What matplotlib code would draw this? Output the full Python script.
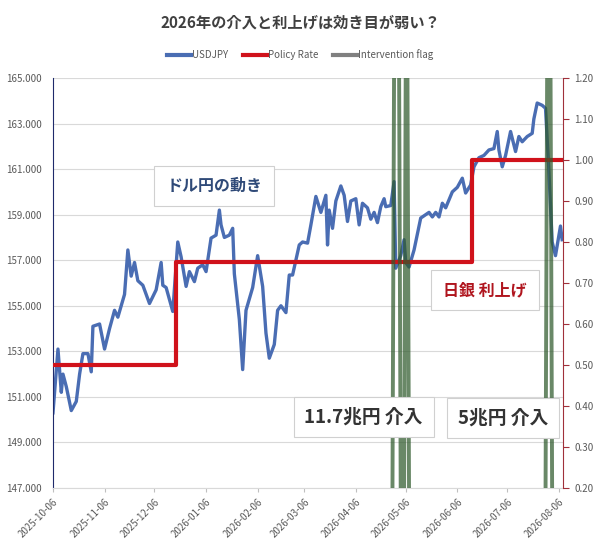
import numpy as np
import pandas as pd
import matplotlib
matplotlib.use("Agg")
import matplotlib.pyplot as plt
import matplotlib.dates as mdates
from matplotlib.lines import Line2D

plt.rcParams['font.family'] = ['Noto Sans CJK JP', 'DejaVu Sans']

# USDJPY
fx_dates = ['2025-10-06', '2025-10-09', '2025-10-11', '2025-10-12', '2025-10-14', '2025-10-17',
            '2025-10-20', '2025-10-22', '2025-10-24', '2025-10-27', '2025-10-29', '2025-10-30',
            '2025-11-03', '2025-11-06', '2025-11-09', '2025-11-12', '2025-11-14', '2025-11-18',
            '2025-11-20', '2025-11-22', '2025-11-24', '2025-11-26', '2025-11-29', '2025-12-03',
            '2025-12-07', '2025-12-10', '2025-12-11', '2025-12-13', '2025-12-17', '2025-12-20',
            '2025-12-22', '2025-12-25', '2025-12-27', '2025-12-30', '2026-01-01', '2026-01-04',
            '2026-01-06', '2026-01-09', '2026-01-12', '2026-01-14', '2026-01-15', '2026-01-17',
            '2026-01-20', '2026-01-22', '2026-01-23', '2026-01-26', '2026-01-28', '2026-01-29',
            '2026-01-30', '2026-02-03', '2026-02-06', '2026-02-09', '2026-02-11', '2026-02-13',
            '2026-02-16', '2026-02-18', '2026-02-20', '2026-02-23', '2026-02-25', '2026-02-27',
            '2026-03-01', '2026-03-03', '2026-03-05', '2026-03-08', '2026-03-10', '2026-03-13',
            '2026-03-16', '2026-03-19', '2026-03-20', '2026-03-21', '2026-03-23', '2026-03-25',
            '2026-03-28', '2026-03-30', '2026-04-01', '2026-04-03', '2026-04-06', '2026-04-08',
            '2026-04-10', '2026-04-13', '2026-04-15', '2026-04-17', '2026-04-19', '2026-04-21',
            '2026-04-23', '2026-04-24', '2026-04-27', '2026-04-29', '2026-04-30', '2026-05-03',
            '2026-05-05', '2026-05-06', '2026-05-08', '2026-05-11', '2026-05-15', '2026-05-18',
            '2026-05-20', '2026-05-22', '2026-05-24', '2026-05-26', '2026-05-28', '2026-05-30',
            '2026-06-03', '2026-06-06', '2026-06-09', '2026-06-11', '2026-06-14', '2026-06-16',
            '2026-06-19', '2026-06-22', '2026-06-25', '2026-06-28', '2026-06-30', '2026-07-01',
            '2026-07-03', '2026-07-05', '2026-07-08', '2026-07-11', '2026-07-13', '2026-07-15',
            '2026-07-18', '2026-07-21', '2026-07-22', '2026-07-24', '2026-07-27', '2026-07-29',
            '2026-07-31', '2026-08-02', '2026-08-04', '2026-08-07', '2026-08-08']
fx_values = [150.3, 153.1, 151.2, 152.0, 151.45, 150.4,
             150.8, 152.0, 152.9, 152.9, 152.1, 154.1,
             154.2, 153.1, 154.0, 154.8, 154.5, 155.5,
             157.45, 156.3, 156.9, 156.1, 155.9, 155.1,
             155.7, 156.9, 155.9, 155.8, 154.75, 157.8,
             157.15, 155.85, 156.5, 156.06, 156.65, 156.8,
             156.5, 157.97, 158.1, 159.2, 158.55, 158.0,
             158.1, 158.4, 156.4, 154.4, 152.2, 153.5,
             154.8, 155.8, 157.2, 155.85, 153.8, 152.7,
             153.3, 154.8, 155.0, 154.7, 156.35, 156.35,
             157.0, 157.67, 157.8, 157.75, 158.55, 159.8,
             159.1, 159.85, 157.67, 159.2, 158.4, 159.6,
             160.26, 159.85, 158.7, 159.6, 159.7, 158.55,
             159.5, 159.3, 158.8, 159.1, 158.65, 159.35,
             159.7, 159.35, 159.4, 160.45, 156.65, 157.2,
             157.9, 156.9, 156.7, 157.45, 158.85, 159.0,
             159.1, 158.9, 159.1, 158.9, 159.5, 159.3,
             160.0, 160.2, 160.6, 159.95, 160.3, 161.1,
             161.5, 161.6, 161.84, 161.9, 162.65, 161.84,
             161.1, 161.6, 162.65, 161.77, 162.43, 162.2,
             162.43, 162.57, 163.2, 163.9, 163.8, 163.67,
             160.96, 157.8, 157.2, 158.5, 157.9]

# BOJ policy rate (step)
rate_dates = ['2025-10-06', '2025-12-19', '2026-06-15', '2026-08-08']
rate_values = [0.50, 0.75, 1.00, 1.00]

# intervention flag
flag_dates = ['2025-10-06', '2026-04-28', '2026-04-29', '2026-05-02', '2026-05-03', '2026-05-05',
              '2026-05-06', '2026-05-07', '2026-05-08', '2026-07-29', '2026-07-30', '2026-08-01',
              '2026-08-02', '2026-08-08']
flag_values = [0, 0, 1, 1, 0, 0, 1, 1, 0, 0, 1, 1, 0, 0]

tick_dates = ['2025-10-06', '2025-11-06', '2025-12-06', '2026-01-06', '2026-02-06', '2026-03-06',
              '2026-04-06', '2026-05-06', '2026-06-06', '2026-07-06', '2026-08-06']

fxd = pd.to_datetime(fx_dates)
rd = pd.to_datetime(rate_dates)
fd = pd.to_datetime(flag_dates)

fig = plt.figure(figsize=(6.0, 5.46), dpi=100)
ax = fig.add_axes([0.0883, 0.1062, 0.85, 0.751])

ax.plot(fxd, fx_values, color='#4a6db3', lw=2.4, solid_joinstyle='round')
ax.set_ylim(147, 165)
ax.set_yticks(np.arange(147, 166, 2))
ax.yaxis.set_major_formatter(plt.FuncFormatter(lambda v, p: f'{v:.3f}'))
ax.set_xlim(pd.Timestamp('2025-10-06'), pd.Timestamp('2026-08-08 12:00'))
ax.set_xticks(pd.to_datetime(tick_dates))
ax.xaxis.set_major_formatter(mdates.DateFormatter('%Y-%m-%d'))
ax.grid(axis='y', color='#d9d9d9', lw=0.8)
ax.set_axisbelow(True)
for lab in ax.get_xticklabels():
    lab.set_rotation(45)
    lab.set_ha('right')
    lab.set_rotation_mode('anchor')
ax.tick_params(axis='x', labelsize=7, colors='#595959', length=3, color='#bfbfbf')
ax.tick_params(axis='y', labelsize=7, colors='#595959', length=0, pad=8)
ax.spines['top'].set_visible(False)
ax.spines['right'].set_visible(False)
ax.spines['bottom'].set_color('#d9d9d9')
ax.spines['left'].set_color('#1f2a6b')

ax2 = ax.twinx()
ax2.plot(rd, rate_values, color='#d0121b', lw=3.0, drawstyle='steps-post')
ax2.set_ylim(0.2, 1.2)
ax2.set_yticks(np.arange(0.2, 1.21, 0.1))
ax2.yaxis.set_major_formatter(plt.FuncFormatter(lambda v, p: f'{v:.2f}'))
ax2.tick_params(axis='y', labelsize=7, colors='#595959', length=4, color='#a0303a', pad=4)
for s in ['top', 'left', 'bottom']:
    ax2.spines[s].set_visible(False)
ax2.spines['right'].set_color('#a0303a')

ax3 = ax.twinx()
ax3.plot(fd, flag_values, color='#2f5a2c', lw=2.8, alpha=0.72)
ax3.set_ylim(0.03, 0.97)
ax3.axis('off')

# text boxes
box = dict(boxstyle='square,pad=0.75', fc='white', ec='#d0d0d0', lw=0.8)
ax3.text(0.316, 0.737, 'ドル円の動き', transform=ax3.transAxes, ha='center', va='center',
         fontsize=11.5, fontweight='bold', color='#2f4a78', bbox=box, zorder=10)
ax3.text(0.847, 0.483, '日銀 利上げ', transform=ax3.transAxes, ha='center', va='center',
         fontsize=11.5, fontweight='bold', color='#b0151e', bbox=box, zorder=10)
ax3.text(0.609, 0.173, '11.7兆円 介入', transform=ax3.transAxes, ha='center', va='center',
         fontsize=13.5, fontweight='bold', color='#333333', bbox=dict(box, boxstyle='square,pad=0.58'), zorder=10)
ax3.text(0.882, 0.171, '5兆円 介入', transform=ax3.transAxes, ha='center', va='center',
         fontsize=13.5, fontweight='bold', color='#333333', bbox=dict(box, boxstyle='square,pad=0.58'), zorder=10)

fig.text(0.5, 0.958, '2026年の介入と利上げは効き目が弱い？', ha='center', va='center',
         fontsize=11, fontweight='bold', color='#404040')

handles = [Line2D([], [], color='#4a6db3', lw=3),
           Line2D([], [], color='#d0121b', lw=3),
           Line2D([], [], color='#808080', lw=3)]
fig.legend(handles, ['USDJPY', 'Policy Rate', 'Intervention flag'], loc='center',
           bbox_to_anchor=(0.5, 0.9), ncol=3, frameon=False, fontsize=7,
           labelcolor='#595959', handlelength=2.5, handletextpad=0.1, columnspacing=1.5)

fig.savefig('out.png', dpi=100)
